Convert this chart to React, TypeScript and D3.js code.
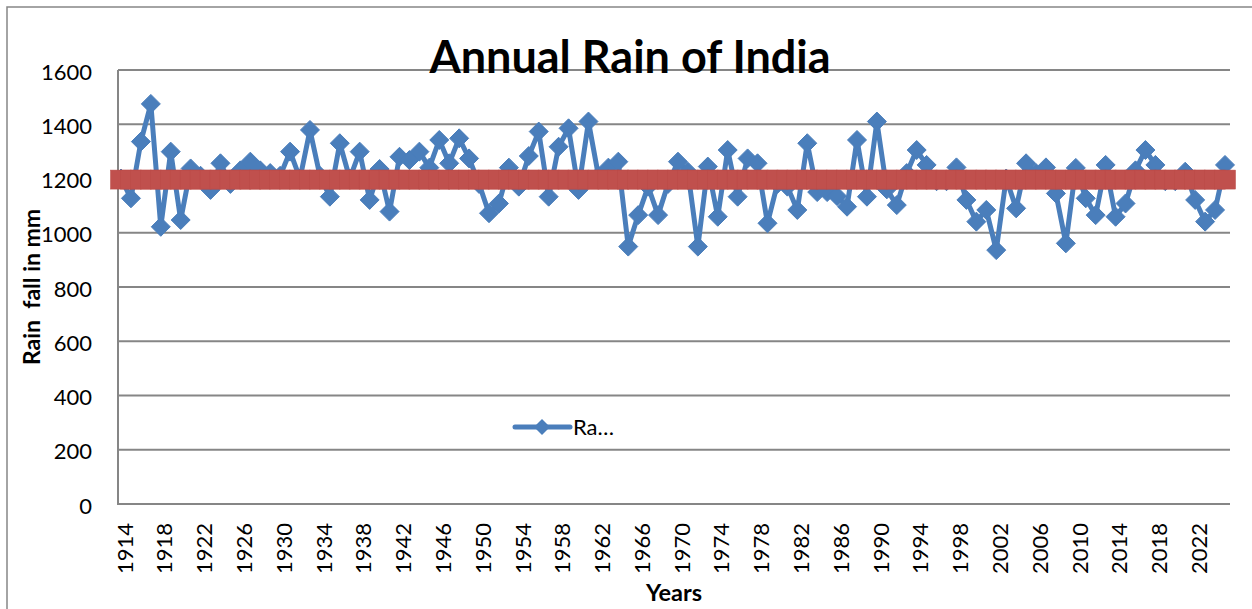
import React from 'react';
import * as d3 from 'd3';

// annual rainfall (mm), 1914 .. 2025
const years: number[] = d3.range(1914, 2026);
const rainfall: number[] = [
  1200, 1127, 1336, 1475, 1022, 1299, 1047, 1237, 1210, 1158,
  1256, 1180, 1230, 1262, 1230, 1220, 1210, 1299, 1200, 1379,
  1210, 1133, 1330, 1200, 1299, 1121, 1235, 1078, 1280, 1268,
  1299, 1240, 1342, 1256, 1348, 1274, 1180, 1072, 1108, 1240,
  1170, 1283, 1373, 1133, 1317, 1385, 1158, 1410, 1210, 1240,
  1262, 949, 1065, 1170, 1065, 1180, 1262, 1225, 949, 1244,
  1059, 1305, 1133, 1274, 1256, 1035, 1180, 1170, 1084, 1330,
  1150, 1150, 1135, 1096, 1342, 1133, 1410, 1160, 1102, 1220,
  1305, 1250, 1190, 1190, 1241, 1121, 1041, 1084, 936, 1200,
  1090, 1256, 1220, 1241, 1145, 961, 1239, 1127, 1065, 1250,
  1059, 1108, 1230, 1305, 1250, 1190, 1190, 1225, 1121, 1041,
  1084, 1250,
];
// the flat red series (long-term average)
const averageRain = 1196;
const yTicks: number[] = [0, 200, 400, 600, 800, 1000, 1200, 1400, 1600];
const xTickYears: number[] = years.filter((y) => (y - 1914) % 4 === 0);

const title = 'Annual Rain of India';
const yTitle = 'Rain  fall in mm';
const xTitle = 'Years';
const legendLabel = 'Ra…';

const W = 1252;
const H = 609;
const plot = { left: 118, right: 1230, top: 70, bottom: 504 };
const blue = '#4A7EBB';
const red = '#C0504D';
const grid = '#868686';
const font = 'Lato, "Open Sans", sans-serif';

const App = () => {
  const x = d3.scalePoint<number>().domain(years).range([121, 1225]);
  const y = d3.scaleLinear().domain([0, 1600]).range([plot.bottom, plot.top]);

  const line = d3
    .line<number>()
    .x((_, i) => x(years[i]) as number)
    .y((d) => y(d));

  const diamond = (cx: number, cy: number, r: number) =>
    `M${cx},${cy - r}L${cx + r},${cy}L${cx},${cy + r}L${cx - r},${cy}Z`;

  const avgY = y(averageRain);

  return (
    <svg
      width={W}
      height={H}
      style={{ position: 'absolute', left: 0, top: 0, background: '#fff' }}
      fontFamily={font}
    >
      <rect x={7} y={7} width={1300} height={700} fill="#fff" stroke={grid} strokeWidth={1.5} />

      {/* gridlines */}
      {yTicks.map((t) => (
        <line key={t} x1={plot.left} x2={plot.right} y1={y(t)} y2={y(t)} stroke={grid} strokeWidth={2} />
      ))}
      <line x1={plot.left} x2={plot.left} y1={plot.top} y2={plot.bottom + 1} stroke={grid} strokeWidth={2} />

      {/* y tick labels */}
      {yTicks.map((t) => (
        <text key={t} x={92} y={y(t) + 2} dy="0.35em" textAnchor="end" fontSize={22} fill="#000">
          {t}
        </text>
      ))}

      {/* x tick labels */}
      {xTickYears.map((yr) => {
        const px = (x(yr) as number) + 4;
        return (
          <text
            key={yr}
            transform={`translate(${px},523) rotate(-90)`}
            dy="0.35em"
            textAnchor="end"
            fontSize={22}
            fill="#000"
          >
            {yr}
          </text>
        );
      })}

      {/* rainfall series */}
      <path d={line(rainfall) || ''} fill="none" stroke={blue} strokeWidth={5} strokeLinejoin="round" />
      {rainfall.map((v, i) => (
        <path key={i} d={diamond(x(years[i]) as number, y(v), 9.5)} fill={blue} stroke={blue} strokeWidth={1} />
      ))}

      {/* average series */}
      {years.map((yr) => (
        <rect
          key={yr}
          x={(x(yr) as number) - 10.5}
          y={avgY - 9.5}
          width={21}
          height={19}
          fill={red}
          stroke="#BA4A47"
          strokeWidth={0.5}
        />
      ))}

      {/* legend */}
      <line x1={515} x2={570} y1={427} y2={427} stroke={blue} strokeWidth={5} strokeLinecap="round" />
      <path d={diamond(542, 427, 8)} fill={blue} />
      <text x={573} y={427} dy="0.35em" fontSize={22} fill="#000">
        {legendLabel}
      </text>

      {/* titles */}
      <text x={630} y={73} textAnchor="middle" fontSize={45} fontWeight="bold" fill="#000">
        {title}
      </text>
      <text x={674} y={601} textAnchor="middle" fontSize={23.5} fontWeight="bold" fill="#000">
        {xTitle}
      </text>
      <text
        transform="translate(40,287) rotate(-90)"
        textAnchor="middle"
        fontSize={23}
        fontWeight="bold"
        fill="#000"
        style={{ whiteSpace: 'pre' }}
      >
        {yTitle}
      </text>
    </svg>
  );
};

export default App;
